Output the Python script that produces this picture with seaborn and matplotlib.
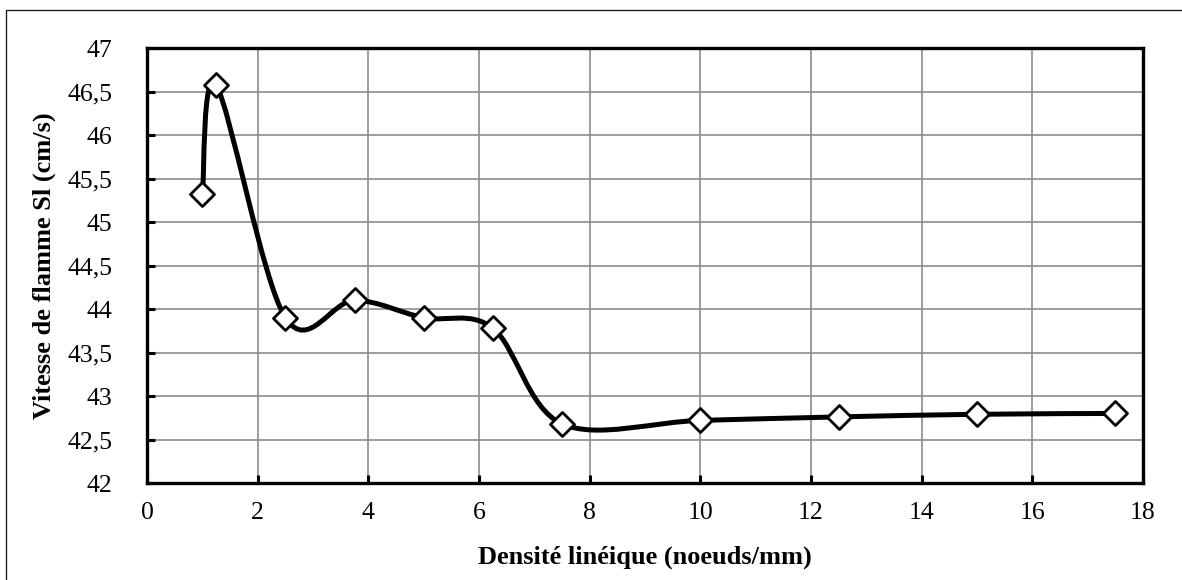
import numpy as np
import matplotlib
matplotlib.use("Agg")
import matplotlib.pyplot as plt
from matplotlib.path import Path
from matplotlib.patches import PathPatch, Rectangle
from matplotlib.ticker import FuncFormatter, MultipleLocator
import seaborn as sns

# data
density = [1.0, 1.25, 2.5, 3.75, 5.0, 6.25, 7.5, 10.0, 12.5, 15.0, 17.5]
speed = [45.32, 46.57, 43.9, 44.1, 43.9, 43.78, 42.68, 42.72, 42.76, 42.79, 42.8]

X_LABEL = "Densité linéique (noeuds/mm)"
Y_LABEL = "Vitesse de flamme Sl (cm/s)"


def smooth_path(xs, ys):
    # Excel-like smoothed line: cubic Bezier segments with Catmull-Rom control points
    p = np.column_stack([xs, ys])
    verts = [p[0]]
    codes = [Path.MOVETO]
    n = len(p)
    for i in range(n - 1):
        p0 = p[i - 1] if i > 0 else p[i]
        p1, p2 = p[i], p[i + 1]
        p3 = p[i + 2] if i + 2 < n else p[i + 1]
        c1 = p1 + (p2 - p0) / 6.0
        c2 = p2 - (p3 - p1) / 6.0
        verts += [c1, c2, p2]
        codes += [Path.CURVE4] * 3
    return Path(verts, codes)


sns.set_theme(style="white")
plt.rcParams["font.family"] = ["Liberation Serif", "DejaVu Serif"]

fig = plt.figure(figsize=(11.82, 5.80), dpi=100)
ax = fig.add_axes([0.1244, 0.1672, 0.8426, 0.75])

# outer chart frame: only its top and left edges fall inside the image
fig.patches.append(Rectangle((6 / 1182, -0.1), 1.1, 1.1 - 10 / 580,
                             transform=fig.transFigure, fill=False,
                             edgecolor="#222222", linewidth=1.0))

ax.add_patch(PathPatch(smooth_path(density, speed), facecolor="none",
                       edgecolor="black", linewidth=3.6, zorder=3,
                       capstyle="round", joinstyle="round"))
sns.scatterplot(x=density, y=speed, ax=ax, marker="D", s=150,
                facecolor="white", edgecolor="black", linewidth=2.0, zorder=4)

ax.set_xlim(0, 18)
ax.set_ylim(42, 47)
ax.xaxis.set_major_locator(MultipleLocator(2))
ax.yaxis.set_major_locator(MultipleLocator(0.5))
ax.yaxis.set_major_formatter(FuncFormatter(lambda v, _: f"{v:g}".replace(".", ",")))

ax.grid(True, color="#8c8c8c", linewidth=1.2)
ax.set_axisbelow(True)
for s in ax.spines.values():
    s.set_color("black")
    s.set_linewidth(2.4)

ax.tick_params(axis="both", direction="in", length=6, width=2.2, color="black",
               labelsize=18.5, labelcolor="black", left=True, bottom=True)
ax.tick_params(axis="y", pad=25)
ax.tick_params(axis="x", pad=14)

ax.set_xlabel(X_LABEL, fontsize=19, fontweight="bold", labelpad=15, color="black")
ax.set_ylabel(Y_LABEL, fontsize=19, fontweight="bold", labelpad=8, color="black")

fig.savefig("out.png", dpi=100)
